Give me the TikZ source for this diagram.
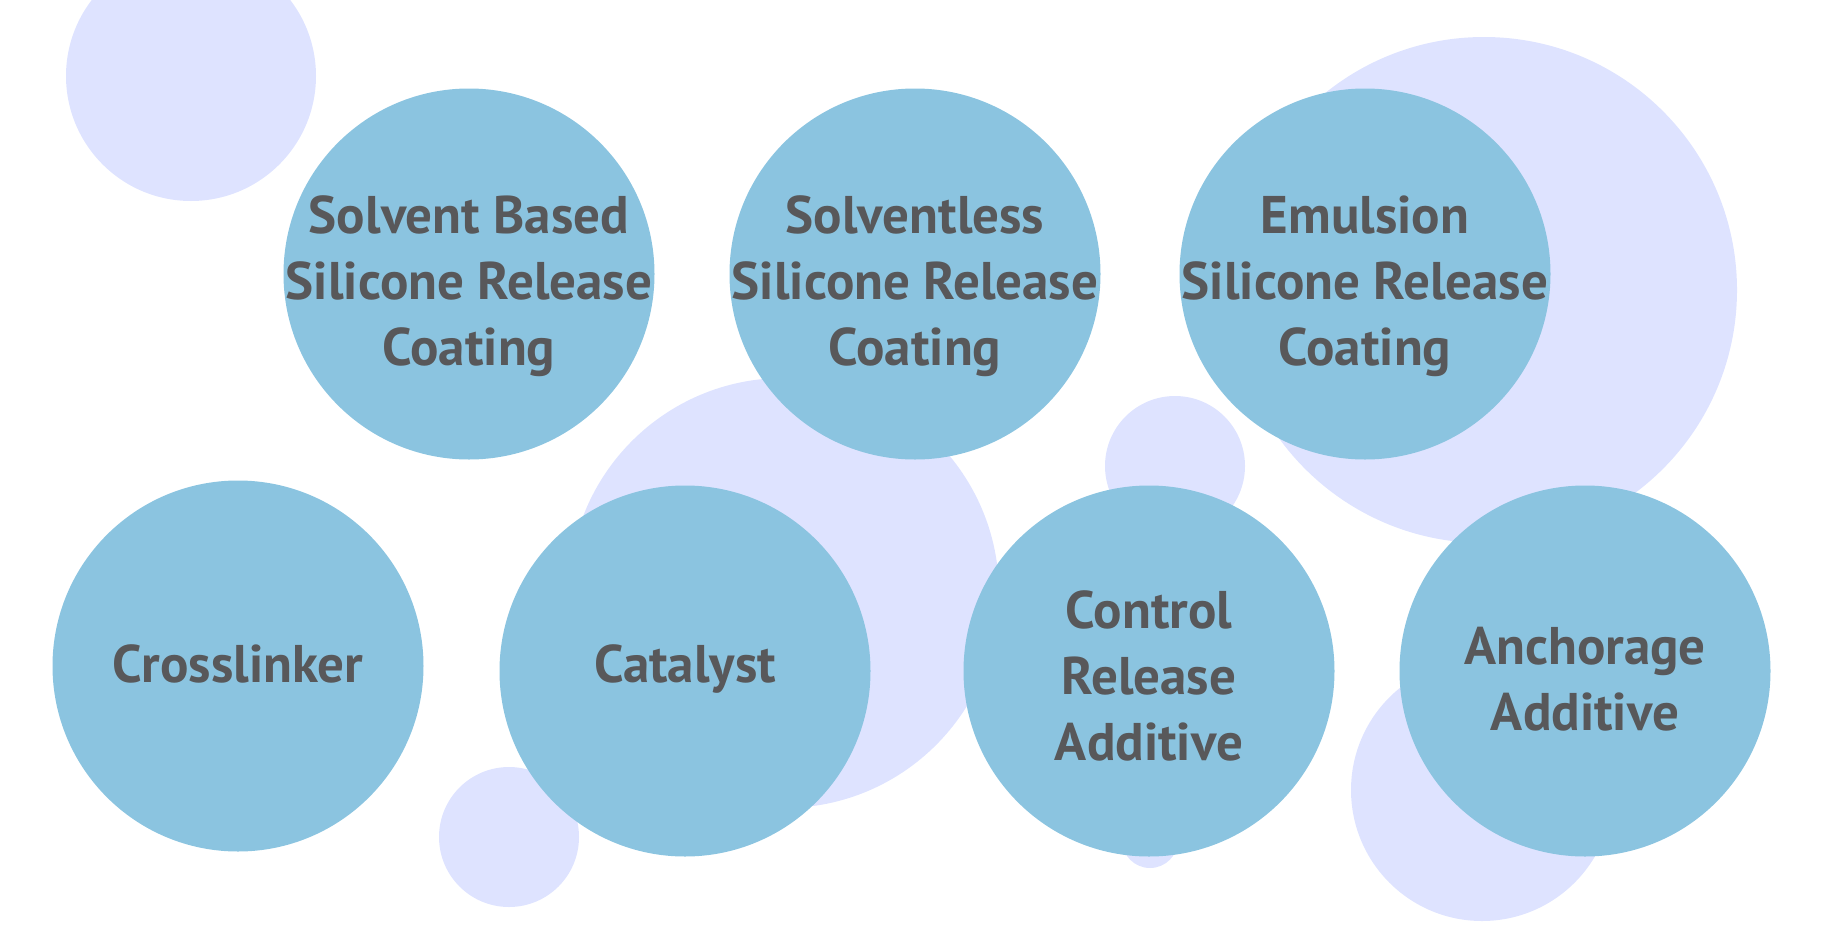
\documentclass[tikz,border=0pt]{standalone}
\usepackage{fontspec}
\setmainfont{PT Sans}
\usepackage{xcolor}
\usepackage{tikz}
\definecolor{bubbleblue}{RGB}{139,196,224}
\definecolor{lavender}{RGB}{222,227,255}
\definecolor{textgray}{RGB}{88,88,90}

\begin{document}
\begin{tikzpicture}[x=1pt, y=-1pt, bubble/.style={circle, inner sep=0pt, minimum size=371pt, fill=bubbleblue}, words/.style={text=textgray, align=center, font=\bfseries\fontsize{53}{66}\selectfont, text depth=0pt}, back/.style={circle, inner sep=0pt, minimum size=#1, fill=lavender}]
  \useasboundingbox (0,0) rectangle (1834,940);
  \clip (0,0) rectangle (1834,940);
  % light bubbles behind
  \node[back=250pt] (backa) at (191,76) {};
  \node[back=430pt] (backb) at (784,593) {};
  \node[back=140pt] (backc) at (1175,466) {};
  \node[back=506pt] (backd) at (1484,290) {};
  \node[back=140pt] (backe) at (509,837) {};
  \node[back=262pt] (backf) at (1482,790) {};
  \node[back=56pt] (backg) at (1150,840) {};
  % top row
  \node[bubble, label={[words, yshift=-7pt]center:{Solvent Based\\Silicone Release\\Coating}}] (solvent) at (469,274) {};
  \node[bubble, label={[words, yshift=-7pt]center:{Solventless\\Silicone Release\\Coating}}] (solventless) at (915,274) {};
  \node[bubble, label={[words, yshift=-7pt]center:{Emulsion\\Silicone Release\\Coating}}] (emulsion) at (1365,274) {};
  % bottom row
  \node[bubble, label={[words, yshift=2pt]center:Crosslinker}] (crosslinker) at (238,666) {};
  \node[bubble, label={[words, yshift=7pt]center:Catalyst}] (catalyst) at (685,671) {};
  \node[bubble, label={[words, yshift=-5pt]center:{Control\\Release\\Additive}}] (control) at (1149,671) {};
  \node[bubble, label={[words, yshift=-8pt]center:{Anchorage\\Additive}}] (anchorage) at (1585,671) {};
\end{tikzpicture}
\end{document}
